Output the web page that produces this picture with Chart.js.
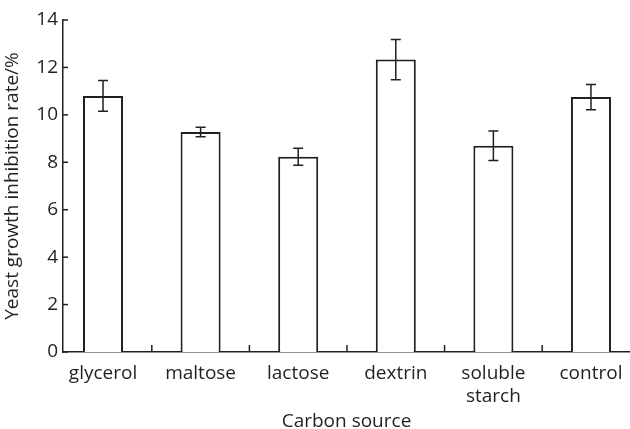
<!DOCTYPE html>
<html>
<head>
<meta charset="utf-8">
<script src="https://cdn.jsdelivr.net/npm/chart.js@4.4.0/dist/chart.umd.min.js"></script>
<style>
  body { margin: 0; background: #fff; }
  canvas { display: block; }
</style>
</head>
<body>
<canvas id="chart" width="630" height="429"></canvas>
<script>
// data
var carbonSources = ["glycerol", "maltose", "lactose", "dextrin", ["soluble", "starch"], "control"];
var inhibitionRate = [10.8, 9.28, 8.23, 12.33, 8.7, 10.75];
var errorSize = [0.65, 0.2, 0.36, 0.85, 0.62, 0.53];
var yTicks = [0, 2, 4, 6, 8, 10, 12, 14];

var ink = "#231f20";
var fontFamily = "'Open Sans', sans-serif";

// error bars + inward tick marks
var extrasPlugin = {
  id: "extras",
  afterDatasetsDraw: function(chart) {
    var ctx = chart.ctx;
    var xs = chart.scales.x;
    var ys = chart.scales.y;
    ctx.save();
    ctx.strokeStyle = ink;
    ctx.lineWidth = 1.5;
    // error bars
    inhibitionRate.forEach(function(v, i) {
      var x = xs.getPixelForValue(i);
      var top = ys.getPixelForValue(v + errorSize[i]);
      var bot = ys.getPixelForValue(v - errorSize[i]);
      ctx.beginPath();
      ctx.moveTo(x, top); ctx.lineTo(x, bot);
      ctx.moveTo(x - 5, top); ctx.lineTo(x + 5, top);
      ctx.moveTo(x - 5, bot); ctx.lineTo(x + 5, bot);
      ctx.stroke();
    });
    // y tick marks pointing into the plot
    var left = chart.chartArea.left;
    yTicks.forEach(function(t) {
      var y = ys.getPixelForValue(t);
      ctx.beginPath();
      ctx.moveTo(left, y); ctx.lineTo(left + 5, y);
      ctx.stroke();
    });
    // x tick marks between categories
    var bottom = chart.chartArea.bottom;
    for (var i = 0; i < carbonSources.length - 1; i++) {
      var x = xs.getPixelForValue(i + 0.5);
      ctx.beginPath();
      ctx.moveTo(x, bottom); ctx.lineTo(x, bottom - 7);
      ctx.stroke();
    }
    ctx.restore();
  }
};

new Chart(document.getElementById("chart").getContext("2d"), {
  type: "bar",
  data: {
    datasets: [{
      data: inhibitionRate.map(function(v, i) { return { x: i, y: v }; }),
      backgroundColor: "#ffffff",
      borderColor: ink,
      borderWidth: 2,
      barPercentage: 0.41,
      categoryPercentage: 1
    }]
  },
  plugins: [extrasPlugin],
  options: {
    responsive: false,
    animation: false,
    layout: { padding: { top: 20, right: 0, bottom: 0, left: 0 } },
    plugins: { legend: { display: false }, tooltip: { enabled: false } },
    scales: {
      x: {
        type: "linear",
        offset: false,
        bounds: "data",
        min: -0.41,
        max: 5.4,
        afterBuildTicks: function(scale) {
          scale.ticks = carbonSources.map(function(_, i) { return { value: i }; });
        },
        afterFit: function(scale) { scale.height = 77; },
        grid: { display: false, tickLength: 8 },
        border: { color: ink, width: 1.5 },
        ticks: {
          autoSkip: false,
          maxRotation: 0,
          padding: 2,
          color: ink,
          font: { family: fontFamily, size: 19, lineHeight: 1.22 },
          callback: function(value) { return carbonSources[value]; }
        },
        title: {
          display: true,
          text: "Carbon source",
          color: ink,
          font: { family: fontFamily, size: 19, lineHeight: 1 },
          padding: { top: 0, bottom: -2 }
        }
      },
      y: {
        min: 0,
        max: 14,
        afterBuildTicks: function(scale) {
          scale.ticks = yTicks.map(function(t) { return { value: t }; });
        },
        afterFit: function(scale) { scale.width = 63; },
        grid: { display: false, drawTicks: false },
        border: { color: ink, width: 1.5 },
        ticks: {
          padding: 5,
          color: ink,
          font: { family: fontFamily, size: 19 }
        },
        title: {
          display: true,
          text: "Yeast growth inhibition rate/%",
          color: ink,
          font: { family: fontFamily, size: 19, lineHeight: 1.2 },
          padding: { top: 1, bottom: 0 }
        }
      }
    }
  }
});
</script>
</body>
</html>
